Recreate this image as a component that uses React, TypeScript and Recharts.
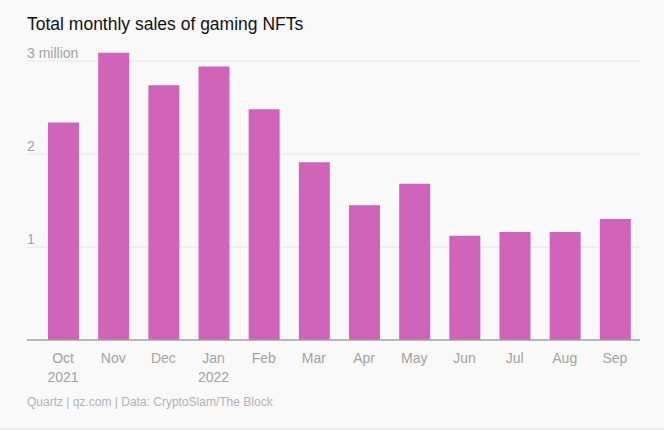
import { BarChart, Bar, XAxis, YAxis, CartesianGrid } from 'recharts';

const months = ['Oct', 'Nov', 'Dec', 'Jan', 'Feb', 'Mar', 'Apr', 'May', 'Jun', 'Jul', 'Aug', 'Sep'];
const years = ['2021', '', '', '2022', '', '', '', '', '', '', '', ''];
// sales in millions
const sales = [2.34, 3.09, 2.74, 2.94, 2.48, 1.91, 1.45, 1.68, 1.12, 1.16, 1.16, 1.3];
const yTicks = [0, 1, 2, 3];
const yTickLabels: Record<number, string> = { 0: '', 1: '1', 2: '2', 3: '3 million' };

const data = months.map((m, i) => ({ month: m, year: years[i], sales: sales[i] }));

const FONT = '"Liberation Sans", Arial, sans-serif';
const GREY = '#a3a3a3';

function MonthTick(props: any) {
  const { x, y, index } = props;
  return (
    <g>
      <text x={x} y={y + 16} textAnchor="middle" dominantBaseline="central" fill={GREY} fontSize={14} fontFamily={FONT}>
        {months[index]}
      </text>
      {years[index] && (
        <text x={x} y={y + 35} textAnchor="middle" dominantBaseline="central" fill={GREY} fontSize={14} fontFamily={FONT}>
          {years[index]}
        </text>
      )}
    </g>
  );
}

function ValueTick(props: any) {
  const { y, payload } = props;
  return (
    <text x={27} y={y - 8.5} textAnchor="start" dominantBaseline="central" fill={GREY} fontSize={14} fontFamily={FONT}>
      {yTickLabels[payload.value]}
    </text>
  );
}

export default function App() {
  return (
    <div
      style={{
        position: 'absolute',
        left: 0,
        top: 0,
        width: 664,
        height: 430,
        background: '#f9f9fa',
        borderBottom: '2px solid #ececec',
        boxSizing: 'border-box',
        fontFamily: FONT,
      }}
    >
      <div style={{ position: 'absolute', left: 27, top: 14, fontSize: 17.5, color: '#111', whiteSpace: 'nowrap' }}>
        Total monthly sales of gaming NFTs
      </div>
      <BarChart
        width={664}
        height={430}
        data={data}
        margin={{ top: 42.4, right: 24, bottom: 40, left: 26 }}
        barSize={31}
      >
        <CartesianGrid vertical={false} stroke="#e6e6e6" horizontalValues={[1, 2, 3]} />
        <XAxis
          dataKey="month"
          height={50}
          axisLine={{ stroke: '#a0a0a0', strokeWidth: 1.5 }}
          tickLine={false}
          tickSize={0}
          padding={{ left: 11, right: 0 }}
          interval={0}
          tick={(p: any) => <MonthTick {...p} />}
        />
        <YAxis
          width={1}
          domain={[0, 3.2]}
          ticks={yTicks}
          axisLine={false}
          tickLine={false}
          tick={(p: any) => <ValueTick {...p} />}
        />
        <Bar dataKey="sales" fill="#d064b9" isAnimationActive={false} />
      </BarChart>
      <div style={{ position: 'absolute', left: 27, top: 395, fontSize: 12, color: '#b3b3b3', whiteSpace: 'nowrap' }}>
        Quartz | qz.com | Data: CryptoSlam/The Block
      </div>
    </div>
  );
}
